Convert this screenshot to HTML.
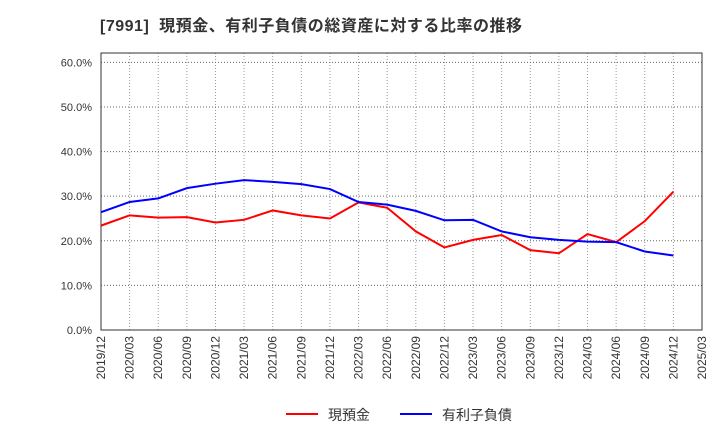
<!DOCTYPE html>
<html><head><meta charset="utf-8"><style>
body{margin:0;background:#fff;font-family:"Liberation Sans","Noto Sans CJK JP",sans-serif;}
</style></head><body>
<svg width="720" height="440" xmlns="http://www.w3.org/2000/svg" font-family="Liberation Sans, Noto Sans CJK JP, sans-serif">
<text x="100" y="31" font-size="16" font-weight="bold" fill="#333" textLength="422" lengthAdjust="spacing" style="white-space:pre">[7991]  現預金、有利子負債の総資産に対する比率の推移</text>
<g id="grid"></g>
<g id="axes"></g>
<g id="series"></g>
<g>
<line x1="286" y1="414" x2="318" y2="414" stroke="#f00" stroke-width="2"/>
<text x="328" y="420" font-size="14" fill="#333">現預金</text>
<line x1="400" y1="414" x2="432" y2="414" stroke="#00f" stroke-width="2"/>
<text x="442" y="420" font-size="14" fill="#333">有利子負債</text>
</g>
</svg>
<script>
const categories=["2019/12","2020/03","2020/06","2020/09","2020/12","2021/03","2021/06","2021/09","2021/12","2022/03","2022/06","2022/09","2022/12","2023/03","2023/06","2023/09","2023/12","2024/03","2024/06","2024/09","2024/12","2025/03"];
const cashValues=[23.4,25.7,25.2,25.3,24.1,24.7,26.8,25.7,25.0,28.6,27.4,22.1,18.5,20.2,21.3,17.9,17.2,21.5,19.7,24.4,31.0];
const debtValues=[26.4,28.7,29.5,31.8,32.8,33.6,33.2,32.7,31.6,28.7,28.1,26.7,24.6,24.7,22.1,20.8,20.2,19.8,19.7,17.6,16.7];
const yTicks=[0,10,20,30,40,50,60];
const L=101,R=702,T=53,B=330,YMAX=62.1;
const ns="http://www.w3.org/2000/svg";
const xs=i=>L+(R-L)*i/(categories.length-1);
const ys=v=>B-(B-T)*v/YMAX;
function mk(tag,attrs,parent){const e=document.createElementNS(ns,tag);for(const k in attrs)e.setAttribute(k,attrs[k]);document.getElementById(parent).appendChild(e);return e;}
categories.forEach((c,i)=>{
 const g=mk("line",{x1:xs(i),x2:xs(i),y1:T,y2:B,stroke:"#999","stroke-dasharray":"1,2"},"grid");
 
 
 const x=xs(i),y=B+6;
 const t=mk("text",{x:x+4,y:y,"font-size":"12",fill:"#333","text-anchor":"end",transform:`rotate(-90 ${x+4} ${y})`},"axes");
 t.textContent=c;
 
 
});
yTicks.forEach(v=>{
 const g=mk("line",{x1:L,x2:R,y1:ys(v),y2:ys(v),stroke:"#666","stroke-dasharray":"1,2"},"grid");
 
 
 const t=mk("text",{x:L-9,y:ys(v)+4,"font-size":"11",fill:"#333","text-anchor":"end"},"axes");
 t.textContent=v.toFixed(1)+"%";
 
 
});
const fr=mk("rect",{x:L,y:T,width:R-L,height:B-T,fill:"none",stroke:"#333"},"axes");


function line(vals,color,name){
 const p=mk("polyline",{points:vals.map((v,i)=>xs(i)+","+ys(v)).join(" "),fill:"none",stroke:color,"stroke-width":"2"},"series");
 
 
}
line(cashValues,"#f00","cash-line");
line(debtValues,"#00f","debt-line");
</script>
</body></html>
